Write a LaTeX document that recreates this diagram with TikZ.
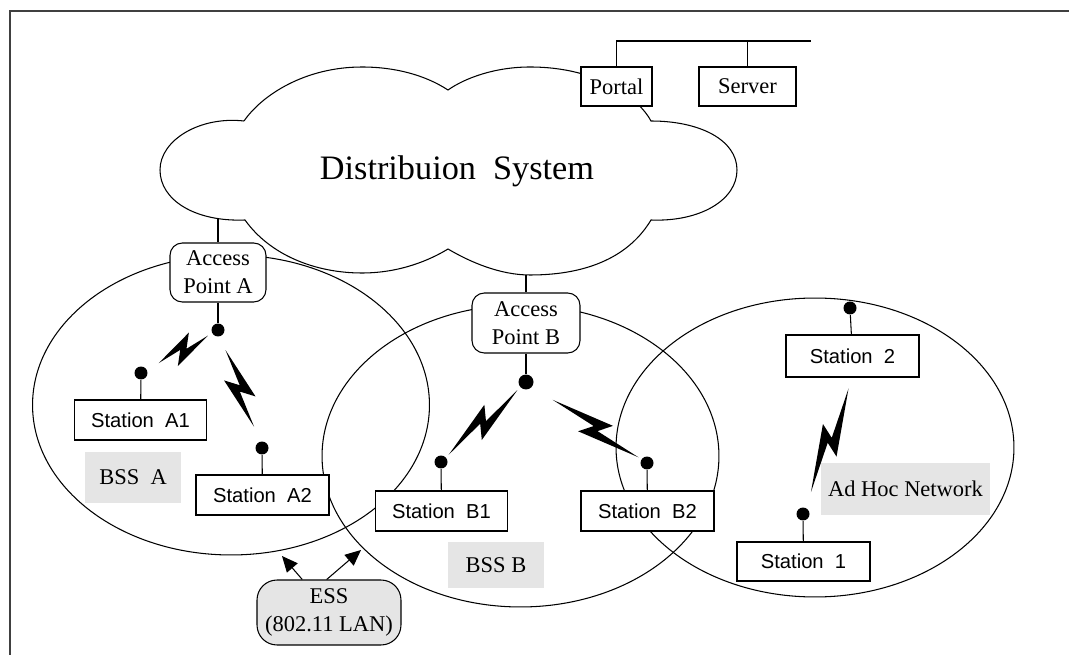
\documentclass[tikz,border=0pt]{standalone}
\usepackage{fontspec}
\setmainfont{Liberation Serif}
\newfontfamily\arialfont{Liberation Sans}
\usetikzlibrary{shapes,arrows.meta,positioning,calc}

% radio link between two dots, drawn on the part #3..#4 of the line
\newcommand{\wbolt}[4]{%
  \fill let \p1=($(#1)!#3!(#2)$), \p2=($(#1)!#4!(#2)$), \p3=($(\p2)-(\p1)$),
    \n1={atan2(\y3,\x3)}, \n2={veclen(\x3,\y3)/2} in
    [shift={($(\p1)!0.5!(\p2)$)}, rotate=\n1]
    ({-\n2*1pt},0pt) -- (7.4pt,6.8pt) -- (1.7pt,-0.6pt) -- ({\n2*1pt},0pt)
    -- (-7.4pt,-6.8pt) -- (-1.7pt,0.6pt) -- cycle;}

\begin{document}
\begin{tikzpicture}[
    x=0.02cm, y=-0.02cm,
    line width=0.6pt,
    lbl/.style={font=\fontsize{12.8}{16}\selectfont},
    station/.style={draw, fill=white, font=\arialfont\fontsize{11.5}{14}\selectfont,
        minimum width=2.64cm, minimum height=0.8cm, inner sep=0pt},
    device/.style={draw, fill=white, lbl, minimum height=0.78cm, inner sep=0pt},
    apbox/.style={draw, fill=white, rounded corners=7pt, lbl, align=center, inner sep=0pt},
    antdot/.style={circle, fill, inner sep=0pt, minimum size=0.26cm},
    bsslabel/.style={fill=black!10, lbl, inner sep=0pt},
    essarrow/.style={-{Triangle[length=9pt,width=8pt]}}
]
\useasboundingbox (0,0) rectangle (1069,655);

% frame
\draw [line width=1.1pt, black!75] (1069,11) -| (9.6,655);

% distribution system cloud
\draw (244,121) .. controls (200,116) and (160,140) .. (160,170)
  .. controls (160,200) and (195,222) .. (245,220)
  .. controls (270,255) and (315,273) .. (362,273)
  .. controls (400,273) and (430,260) .. (448,249)
  .. controls (470,262) and (500,275) .. (530,275)
  .. controls (590,275) and (630,255) .. (651,220)
  .. controls (700,222) and (737,200) .. (737,170)
  .. controls (737,140) and (700,121) .. (651,121)
  .. controls (640,100) and (600,67) .. (530,67)
  .. controls (495,67) and (465,78) .. (448,90)
  .. controls (425,75) and (395,67) .. (362,67)
  .. controls (305,67) and (262,95) .. (244,121);
\node (ds) at (457,171) {\fontsize{19.5}{22}\selectfont Distribuion~~System};
\coordinate (dsA) at (218,219);
\coordinate (dsB) at (526,275);

% basic service sets
\draw (231,405) ellipse [x radius=3.97cm, y radius=3cm];
\draw (520.5,456) ellipse [x radius=3.97cm, y radius=3.02cm];
\draw (815,447.5) ellipse [x radius=3.98cm, y radius=2.99cm];

% portal and server
\node (portal) [device, minimum width=1.42cm] at (616.5,86.5) {Portal};
\node (server) [device, minimum width=1.94cm] at (747.5,86.5) {Server};
\coordinate (busend) at (811,41);
\draw (portal.north) |- (busend);
\draw (server.north) -- (server.north |- busend);

% access points
\node (apA) [apbox, minimum width=1.92cm, minimum height=1.18cm] at (218,272.5) {Access\\Point A};
\node (apB) [apbox, minimum width=2.16cm, minimum height=1.2cm] at (526,323) {Access\\Point B};
\draw (dsA) -- (apA.north);
\draw (dsB) -- (apB.north);
\node (apAdot) [antdot] at (218,330) {};
\node (apBdot) [antdot, minimum size=0.3cm] at (526,382) {};
\draw (apA.south) -- (apAdot);
\draw (apB.south) -- (apBdot);

% stations
\node (stA1) [station] at (140.5,420) {Station~~A1};
\node (stA2) [station, minimum width=2.66cm] at (262.5,495) {Station~~A2};
\node (stB1) [station] at (441.5,511) {Station~~B1};
\node (stB2) [station, minimum width=2.66cm] at (647.5,511) {Station~~B2};
\node (st2) [station, minimum width=2.66cm, minimum height=0.84cm] at (852.5,356) {Station~~2};
\node (st1) [station, minimum width=2.66cm, minimum height=0.78cm] at (803.5,561.5) {Station~~1};

\node (A1dot) [antdot] at (141,373) {};
\node (A2dot) [antdot] at (262,448) {};
\node (B1dot) [antdot] at (441,462) {};
\node (B2dot) [antdot] at (647,463) {};
\node (S2dot) [antdot] at (850,308) {};
\node (S1dot) [antdot] at (803,514) {};
\draw (A1dot) -- (stA1);
\draw (A2dot) -- (stA2);
\draw (B1dot) -- (stB1);
\draw (B2dot) -- (stB2);
\draw (S2dot) -- (st2);
\draw (S1dot) -- (st1);

% radio links
\wbolt{A1dot}{apAdot}{0.23}{0.87}
\wbolt{apAdot}{A2dot}{0.17}{0.82}
\wbolt{B1dot}{apBdot}{0.09}{0.9}
\wbolt{apBdot}{B2dot}{0.22}{0.93}
\wbolt{st2.south}{S1dot}{0.08}{0.84}

% set labels
\node (bssA) [bsslabel, minimum width=1.92cm, minimum height=1.02cm] at (133,477.5) {BSS~~A};
\node (bssB) [bsslabel, minimum width=1.92cm, minimum height=0.92cm] at (496,565) {BSS B};
\node (adhoc) [bsslabel, minimum width=3.38cm, minimum height=1.04cm] at (905.5,489) {Ad Hoc Network};

% extended service set
\node (ess) [draw, fill=black!10, rounded corners=0.4cm, lbl, align=center,
    minimum width=2.88cm, minimum height=1.3cm, inner sep=0pt] at (329,612.5) {ESS\\(802.11 LAN)};
\coordinate (essL) at (282,556);
\coordinate (essR) at (361,550);
\draw [essarrow] (ess.129) -- (essL);
\draw [essarrow] (ess.94) -- (essR);

\end{tikzpicture}
\end{document}
